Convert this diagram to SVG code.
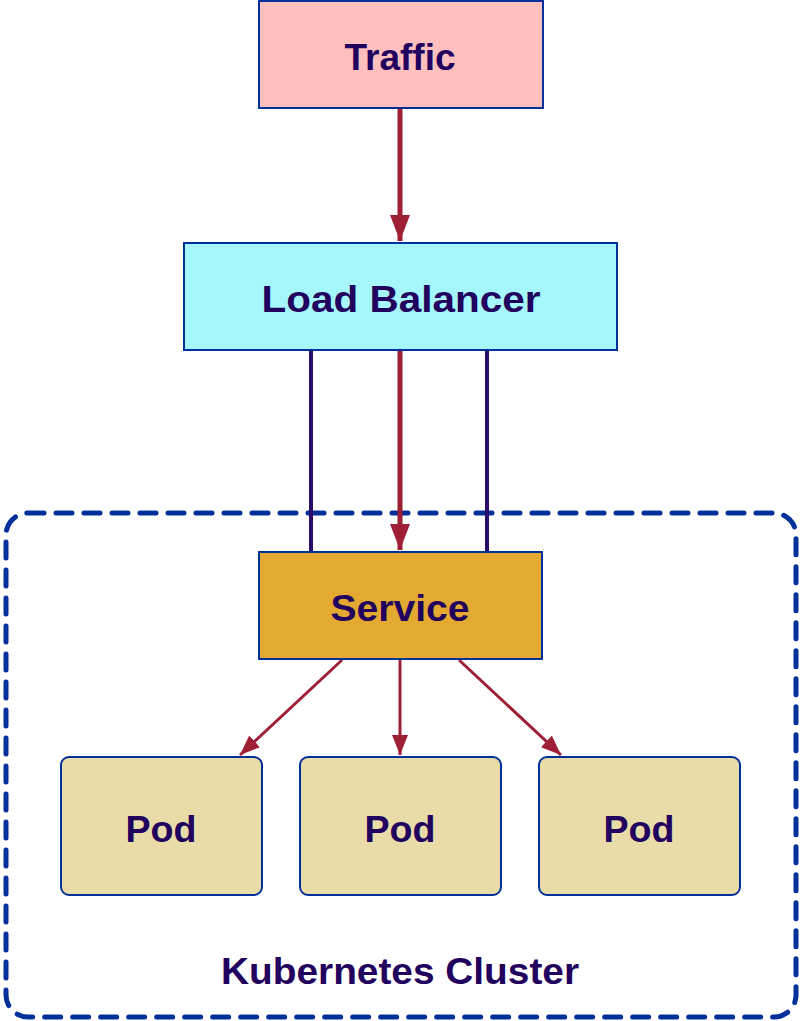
<svg xmlns="http://www.w3.org/2000/svg" width="801" height="1021" viewBox="0 0 801 1021">
<style>
.box{stroke:#00309a;stroke-width:2}
.lbl{font-family:"Liberation Sans",Arial,sans-serif;font-weight:bold;font-size:37px;fill:#22005e;text-anchor:middle}
.red{stroke:#9e1f36;fill:none}
.pur{stroke:#2a0a6a;stroke-width:4;fill:none}
</style>
<defs>
<marker id="big" markerUnits="userSpaceOnUse" markerWidth="26" markerHeight="20" refX="26" refY="10" orient="auto" viewBox="0 0 26 20">
<path d="M0,0 L26,10 L0,20 Z" fill="#9e1f36"/>
</marker>
<marker id="small" markerUnits="userSpaceOnUse" markerWidth="20" markerHeight="16" refX="20" refY="8" orient="auto" viewBox="0 0 20 16">
<path d="M0,0 L20,8 L0,16 Z" fill="#9e1f36"/>
</marker>
</defs>
<rect width="801" height="1021" fill="#ffffff"/>
<g id="cluster">
<rect x="6" y="513" width="790" height="504" rx="22" fill="none" stroke="#00309a" stroke-width="5" stroke-dasharray="16 12" stroke-linecap="round"/>
<text class="lbl" x="400" y="984" textLength="358" lengthAdjust="spacingAndGlyphs">Kubernetes Cluster</text>
</g>
<g id="connectors">
<line class="red" x1="400" y1="108" x2="400" y2="241" stroke-width="5" marker-end="url(#big)"/>
<line class="pur" x1="311" y1="350" x2="311" y2="553"/>
<line class="pur" x1="487" y1="350" x2="487" y2="552"/>
<line class="red" x1="400" y1="350" x2="400" y2="550" stroke-width="5" marker-end="url(#big)"/>
<line class="red" x1="342" y1="660" x2="240" y2="755" stroke-width="3" marker-end="url(#small)"/>
<line class="red" x1="400" y1="660" x2="400" y2="755" stroke-width="3" marker-end="url(#small)"/>
<line class="red" x1="459" y1="660" x2="561" y2="755" stroke-width="3" marker-end="url(#small)"/>
</g>
<g id="traffic">
<rect class="box" x="259" y="1" width="284" height="107" fill="#ffbfbf"/>
<text class="lbl" x="400" y="70" textLength="111" lengthAdjust="spacingAndGlyphs">Traffic</text>
</g>
<g id="loadbalancer">
<rect class="box" x="184" y="243" width="433" height="107" fill="#a5f7fc"/>
<text class="lbl" x="401" y="312" textLength="279" lengthAdjust="spacingAndGlyphs">Load Balancer</text>
</g>
<g id="service">
<rect class="box" x="259" y="552" width="283" height="107" fill="#e3a931"/>
<text class="lbl" x="400" y="621" textLength="139" lengthAdjust="spacingAndGlyphs">Service</text>
</g>
<g id="pod1">
<rect class="box" x="61" y="757" width="201" height="138" rx="8" fill="#e9dca8"/>
<text class="lbl" x="161" y="842" textLength="71" lengthAdjust="spacingAndGlyphs">Pod</text>
</g>
<g id="pod2">
<rect class="box" x="300" y="757" width="201" height="138" rx="8" fill="#e9dca8"/>
<text class="lbl" x="400" y="842" textLength="71" lengthAdjust="spacingAndGlyphs">Pod</text>
</g>
<g id="pod3">
<rect class="box" x="539" y="757" width="201" height="138" rx="8" fill="#e9dca8"/>
<text class="lbl" x="639" y="842" textLength="71" lengthAdjust="spacingAndGlyphs">Pod</text>
</g>
</svg>
